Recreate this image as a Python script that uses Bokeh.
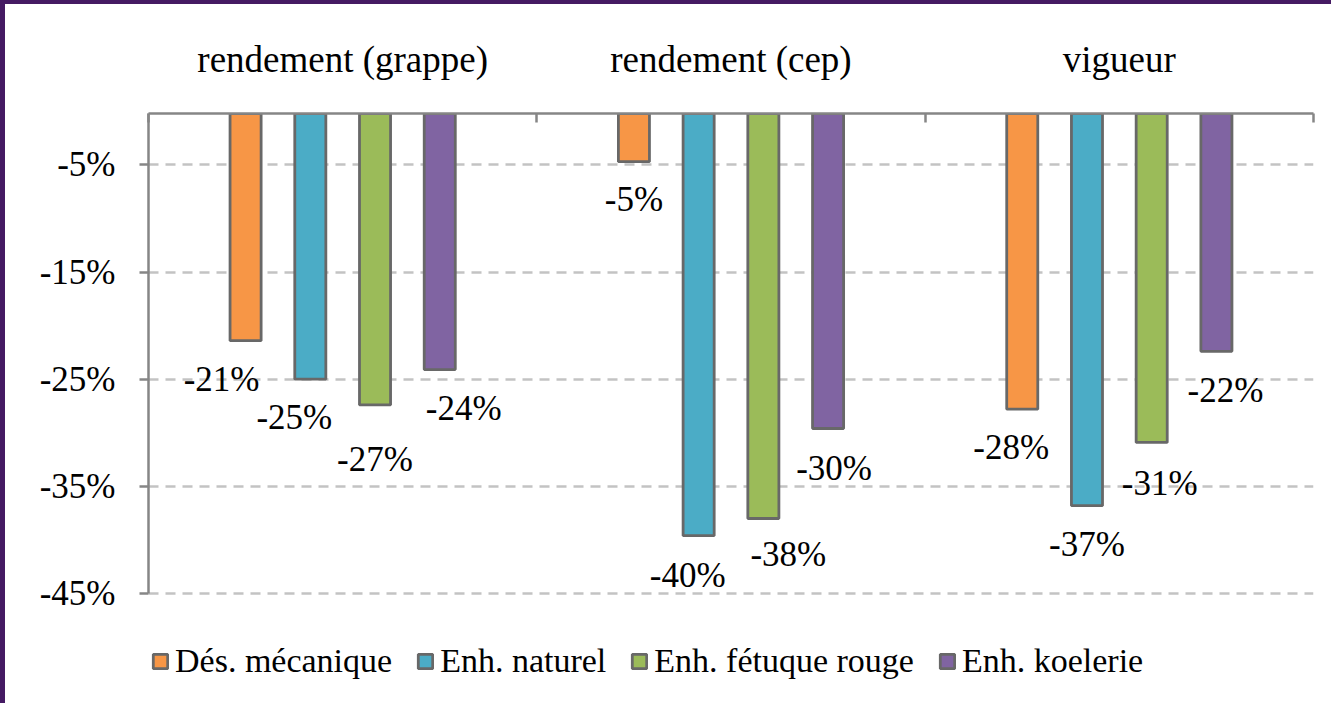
from bokeh.plotting import figure
from bokeh.models import (ColumnDataSource, FixedTicker, LinearAxis, Range1d, Legend,
                          LegendItem, PrintfTickFormatter)
from bokeh.core.properties import value
from bokeh.embed import file_html
from bokeh.resources import INLINE

# ---- data ----
groups = ["rendement (grappe)", "rendement (cep)", "vigueur"]
series = ["Dés. mécanique", "Enh. naturel", "Enh. fétuque rouge", "Enh. koelerie"]
des_mecanique = [-21.4, -4.7, -27.8]
enh_naturel = [-25.0, -39.6, -36.8]
enh_fetuque_rouge = [-27.4, -38.0, -30.9]
enh_koelerie = [-24.1, -29.6, -22.4]
y_ticks = [-5, -15, -25, -35, -45]

# label nudges (pixels), per series, per group – mimic the hand-placed labels
label_dx = [[-24, 0, -11], [-16, -11, 0], [0, 25, 8], [24, 6, 9]]
label_dy = [[39, 38, 38], [38, 40, 39], [55, 36, 41], [39, 40, 39]]

colors = ["#F79646", "#4BACC6", "#9BBB59", "#8064A2"]
FONT = "Liberation Serif"
GRAY = "#868686"
PURPLE = "#451A63"

all_series = [des_mecanique, enh_naturel, enh_fetuque_rouge, enh_koelerie]

# ---- layout constants ----
W, H = 1331, 703            # canvas size (plus 5px / 4px purple border)
TOP, LEFT, RIGHT = 109, 143, 23
Y_END = -0.2
AXIS_PX = 480               # pixel length of the value axis (0 .. -45)
px_per_unit = AXIS_PX / (Y_END - y_ticks[-1])
y_start = Y_END - (H - TOP) / px_per_unit   # frame extends under the axis for the legend

p = figure(width=W, height=H, output_backend="svg", toolbar_location=None,
           x_range=Range1d(0, 3), y_range=Range1d(y_start, Y_END),
           x_axis_location=None, y_axis_location="left",
           min_border_left=LEFT, min_border_right=RIGHT, min_border_top=TOP,
           min_border_bottom=0, background_fill_color="white",
           border_fill_color="white")
p.styles = {"border-left": f"5px solid {PURPLE}", "border-top": f"4px solid {PURPLE}"}
p.outline_line_color = None

# bars
step = 1.0 / 6
renderers = []
lab_x, lab_y, lab_t, lab_dx, lab_dy = [], [], [], [], []
for j, (vals, col) in enumerate(zip(all_series, colors)):
    xs = [i + 0.25 + j * step for i in range(len(groups))]
    src = ColumnDataSource(dict(x=xs, bottom=vals, top=[0] * len(vals)))
    r = p.vbar(x="x", top="top", bottom="bottom", width=0.08, source=src,
               fill_color=col, line_color="#686868", line_width=2.8)
    renderers.append(r)
    lab_x += xs
    lab_y += vals
    lab_t += [f"{round(v)}%" for v in vals]
    lab_dx += label_dx[j]
    lab_dy += label_dy[j]

lsrc = ColumnDataSource(dict(x=lab_x, y=lab_y, t=lab_t, dx=lab_dx, dy=lab_dy))
p.text(x="x", y="y", text="t", source=lsrc, text_align="center",
       text_baseline="middle", x_offset="dx", y_offset="dy", text_font=value(FONT),
       text_font_size="35px", text_color="black")

# y axis
yax = p.yaxis[0]
yax.ticker = FixedTicker(ticks=y_ticks)
yax.formatter = PrintfTickFormatter(format="%d%%")
yax.bounds = (y_ticks[-1], Y_END)
yax.axis_line_color = GRAY
yax.axis_line_width = 2.5
yax.major_tick_line_color = GRAY
yax.major_tick_line_width = 2.5
yax.major_tick_in = 0
yax.major_tick_out = 9
yax.minor_tick_line_color = None
yax.major_label_text_font = FONT
yax.major_label_text_font_size = "35px"
yax.major_label_text_color = "black"
yax.major_label_standoff = 24

p.ygrid.ticker = FixedTicker(ticks=y_ticks)
p.ygrid.grid_line_color = "#c3c3c3"
p.ygrid.grid_line_width = 2.5
p.ygrid.grid_line_dash = "10 7"
p.xgrid.grid_line_color = None

# top category axis: labels at group centres, minor ticks at boundaries
centers = [i + 0.5 for i in range(len(groups))]
bounds = list(range(len(groups) + 1))
ax_top = LinearAxis(ticker=FixedTicker(ticks=centers, minor_ticks=bounds),
                    major_label_overrides={c: g for c, g in zip(centers, groups)},
                    axis_line_color=GRAY, axis_line_width=2.5,
                    major_tick_line_color=None,
                    minor_tick_line_color=GRAY, minor_tick_line_width=2.5,
                    minor_tick_in=9, minor_tick_out=0,
                    major_label_text_font=FONT, major_label_text_font_size="37px",
                    major_label_text_color="black", major_label_standoff=28)
p.add_layout(ax_top, "above")

# legend under the value axis (inside the extended frame)
legend = Legend(items=[LegendItem(label=s, renderers=[r]) for s, r in zip(series, renderers)],
                orientation="horizontal", location=(3, 27),
                glyph_width=18, glyph_height=18, label_standoff=6, spacing=24,
                label_text_font=FONT, label_text_font_size="34px",
                label_text_color="black",
                border_line_color=None, background_fill_alpha=0,
                padding=0, margin=0)
p.add_layout(legend, "center")

open("out.html", "w").write(file_html(p, INLINE))
